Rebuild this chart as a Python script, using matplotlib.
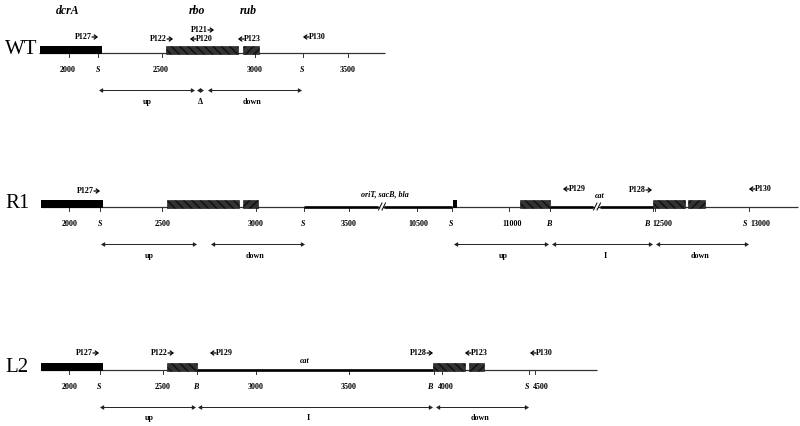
import matplotlib
matplotlib.use("Agg")
import matplotlib.pyplot as plt
from matplotlib.patches import Rectangle

plt.rcParams['font.family'] = ['Liberation Serif', 'DejaVu Serif']
plt.rcParams['hatch.linewidth'] = 1.1

gene_names = [("dcrA", 68), ("rbo", 197), ("rub", 248)]

# WT
wt_line = (39, 385)
wt_black = [(39.5, 102)]
wt_hatch_a = [(166, 238)]
wt_hatch_b = [(243, 259)]
wt_thick = []
wt_ticks = [68.5, 98, 161.5, 255, 303, 347.5]
wt_labels = [("2000", 68), ("S", 98), ("2500", 161), ("3000", 255), ("S", 302), ("3500", 348)]
wt_primers = [("P127", 75, 37, 1), ("P122", 150, 39, 1), ("P121", 191, 30, 1),
              ("P120", 190, 39, -1), ("P123", 238, 39, -1), ("P130", 303, 37, -1)]
wt_ranges = [(99, 195), (197, 204), (208, 302)]
wt_range_labels = [("up", 147), ("\u0394", 200), ("down", 252)]

# R1
r1_line = (41, 798)
r1_black = [(41, 103), (452.5, 457)]
r1_hatch_a = [(167, 239), (520, 550), (653, 685)]
r1_hatch_b = [(243, 258), (688, 705)]
r1_thick = [(304, 378), (384, 452), (550, 593), (600, 653)]
r1_breaks = [378, 593]
r1_ticks = [69, 100, 162, 256, 304, 349, 416.5, 452, 509, 550, 653, 655, 749]
r1_labels = [("2000", 70), ("S", 100), ("2500", 163), ("3000", 256), ("S", 303), ("3500", 349),
             ("10500", 418), ("S", 451), ("11000", 512), ("B", 549), ("B", 647), ("12500", 662),
             ("S", 745), ("13000", 760)]
r1_primers = [("P127", 77, 191, 1), ("P129", 563, 189, -1), ("P128", 629, 190, 1), ("P130", 749, 189, -1)]
r1_ranges = [(101, 197), (211, 305), (454, 549), (552, 653), (656, 749)]
r1_range_labels = [("up", 149), ("down", 255), ("up", 503), ("I", 605), ("down", 700)]
r1_notes = [("oriT, sacB, bla", 385, 194), ("cat", 600, 196)]

# L2
l2_line = (41, 597)
l2_black = [(41, 103)]
l2_hatch_a = [(167, 197), (433, 465)]
l2_hatch_b = [(468.5, 484)]
l2_thick = [(197, 433)]
l2_ticks = [69, 100, 162.5, 197, 256, 349, 433.5, 442, 529, 535]
l2_labels = [("2000", 70), ("S", 99), ("2500", 163), ("B", 196), ("3000", 256), ("3500", 349),
             ("B", 430), ("4000", 446), ("S", 527), ("4500", 541)]
l2_primers = [("P127", 76, 353, 1), ("P122", 151, 353, 1), ("P129", 210, 353, -1),
              ("P128", 410, 353, 1), ("P123", 465, 353, -1), ("P130", 530, 353, -1)]
l2_ranges = [(100, 196), (198, 433), (436, 529)]
l2_range_labels = [("up", 149), ("I", 308), ("down", 480)]
l2_notes = [("cat", 305, 361)]


def draw_track(name, name_y, y, line, black, hatch_a, hatch_b, thick, ticks, labels, ranges, range_labels):
    ax.text(5, name_y, name, fontsize=15, ha="left", va="center")
    ax.plot(line, [y, y], color="#333333", lw=0.9, solid_capstyle="butt", zorder=1)
    for a, b in black:
        ax.add_patch(Rectangle((a, y - 7.5), b - a, 8, fc="black", ec="none", zorder=3))
    for a, b in hatch_a:
        ax.add_patch(Rectangle((a, y - 7.5), b - a, 8, fc="#333333", ec="#111111", lw=0.4,
                               hatch="\\\\\\\\", zorder=3))
    for a, b in hatch_b:
        ax.add_patch(Rectangle((a, y - 7.5), b - a, 8, fc="#333333", ec="#111111", lw=0.4,
                               hatch="////", zorder=3))
    for a, b in thick:
        ax.plot([a, b], [y - 0.5, y - 0.5], color="black", lw=1.9, solid_capstyle="butt", zorder=2)
    for t in ticks:
        ax.plot([t, t], [y, y + 4], color="#333333", lw=0.7, zorder=1)
    for text, x in labels:
        style = "italic" if text in ("S", "B") else "normal"
        ax.text(x, y + 17, text, fontsize=5.8, fontweight="bold", style=style, ha="center", va="center")
    for a, b in ranges:
        ax.annotate("", xy=(b, y + 37.5), xytext=(a, y + 37.5),
                    arrowprops=dict(arrowstyle="<|-|>,head_length=0.2,head_width=0.12", color="#222222",
                                    lw=0.7, shrinkA=0, shrinkB=0))
    for text, x in range_labels:
        ax.text(x, y + 48.5, text, fontsize=5.8, fontweight="bold", ha="center", va="center")


def draw_primers(primers):
    for text, x, y, way in primers:
        if way > 0:
            ax.text(x, y, text, fontsize=5.8, fontweight="bold", ha="left", va="center")
            a, b = x + 17, x + 23
        else:
            ax.text(x + 6, y, text, fontsize=5.8, fontweight="bold", ha="left", va="center")
            a, b = x + 6, x
        ax.annotate("", xy=(b, y), xytext=(a, y),
                    arrowprops=dict(arrowstyle="->,head_length=0.2,head_width=0.15", color="black",
                                    lw=0.9, shrinkA=0, shrinkB=0))


fig = plt.figure(figsize=(8, 4.26), dpi=100)
ax = fig.add_axes([0, 0, 1, 1])
ax.set_xlim(0, 800)
ax.set_ylim(426, 0)
ax.axis("off")

for text, x in gene_names:
    ax.text(x, 11, text, fontsize=8.5, fontweight="bold", style="italic", ha="center", va="center")

draw_track("WT", 50, 53, wt_line, wt_black, wt_hatch_a, wt_hatch_b, wt_thick, wt_ticks, wt_labels,
           wt_ranges, wt_range_labels)
draw_track("R1", 204, 207, r1_line, r1_black, r1_hatch_a, r1_hatch_b, r1_thick, r1_ticks, r1_labels,
           r1_ranges, r1_range_labels)
draw_track("L2", 368, 370, l2_line, l2_black, l2_hatch_a, l2_hatch_b, l2_thick, l2_ticks, l2_labels,
           l2_ranges, l2_range_labels)

draw_primers(wt_primers)
draw_primers(r1_primers)
draw_primers(l2_primers)

# axis breaks on the R1 track
for x in r1_breaks:
    ax.plot([x + 0.5, x + 4], [210, 203], color="black", lw=0.7, zorder=4)
    ax.plot([x + 4, x + 7.5], [210, 203], color="black", lw=0.7, zorder=4)
    ax.add_patch(Rectangle((x + 1.5, 205), 3.5, 3, fc="white", ec="none", zorder=3))

for text, x, y in r1_notes + l2_notes:
    ax.text(x, y, text, fontsize=5.8, fontweight="bold", style="italic", ha="center", va="center")

plt.savefig("out.png", dpi=100)
